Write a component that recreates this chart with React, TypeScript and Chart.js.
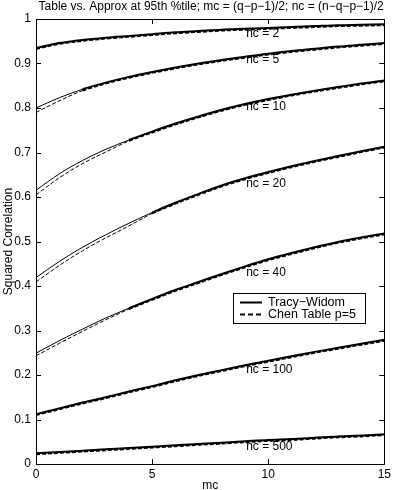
import React, { useEffect, useRef } from "react";
import { Chart, registerables } from "chart.js";

Chart.register(...registerables);

const mcValues = [0, 1, 2, 3, 4, 5, 6, 7, 8, 9, 10, 11, 12, 13, 14, 15];
const ncNames = ["2", "5", "10", "20", "40", "100", "500"];

const twNc2 = [0.935, 0.946, 0.953, 0.958, 0.962, 0.966, 0.97, 0.973, 0.976, 0.978, 0.98, 0.982, 0.984, 0.986, 0.987, 0.988];
const chNc2 = [0.933, 0.944, 0.951, 0.956, 0.96, 0.964, 0.968, 0.971, 0.974, 0.976, 0.978, 0.98, 0.982, 0.984, 0.985, 0.986];
const twNc5 = [0.8, 0.823, 0.842, 0.857, 0.87, 0.881, 0.891, 0.9, 0.908, 0.915, 0.922, 0.928, 0.933, 0.938, 0.942, 0.946];
const chNc5 = [0.79, 0.816, 0.839, 0.855, 0.868, 0.879, 0.889, 0.898, 0.906, 0.913, 0.92, 0.926, 0.931, 0.936, 0.94, 0.944];
const twNc10 = [0.615, 0.652, 0.682, 0.707, 0.728, 0.747, 0.765, 0.781, 0.796, 0.809, 0.82, 0.83, 0.839, 0.847, 0.855, 0.862];
const chNc10 = [0.605, 0.643, 0.675, 0.701, 0.726, 0.745, 0.763, 0.779, 0.794, 0.807, 0.818, 0.828, 0.837, 0.845, 0.853, 0.86];
const twNc20 = [0.419, 0.455, 0.487, 0.515, 0.541, 0.565, 0.587, 0.607, 0.626, 0.642, 0.656, 0.669, 0.681, 0.692, 0.703, 0.713];
const chNc20 = [0.409, 0.446, 0.479, 0.508, 0.535, 0.563, 0.585, 0.605, 0.624, 0.64, 0.654, 0.667, 0.679, 0.69, 0.701, 0.711];
const twNc40 = [0.249, 0.277, 0.303, 0.328, 0.35, 0.371, 0.391, 0.409, 0.427, 0.444, 0.46, 0.474, 0.487, 0.499, 0.509, 0.518];
const chNc40 = [0.243, 0.271, 0.298, 0.324, 0.348, 0.369, 0.389, 0.407, 0.425, 0.442, 0.458, 0.472, 0.485, 0.497, 0.507, 0.516];
const twNc100 = [0.112, 0.125, 0.138, 0.15, 0.163, 0.175, 0.188, 0.2, 0.211, 0.222, 0.232, 0.242, 0.252, 0.261, 0.27, 0.279];
const chNc100 = [0.11, 0.123, 0.136, 0.148, 0.161, 0.173, 0.186, 0.198, 0.209, 0.22, 0.23, 0.24, 0.25, 0.259, 0.268, 0.277];
const twNc500 = [0.024, 0.027, 0.03, 0.033, 0.036, 0.039, 0.042, 0.045, 0.048, 0.051, 0.054, 0.056, 0.059, 0.062, 0.064, 0.067];
const chNc500 = [0.022, 0.025, 0.028, 0.031, 0.034, 0.037, 0.04, 0.043, 0.046, 0.049, 0.052, 0.054, 0.057, 0.06, 0.062, 0.065];

const twSeries = [twNc2, twNc5, twNc10, twNc20, twNc40, twNc100, twNc500];
const chSeries = [chNc2, chNc5, chNc10, chNc20, chNc40, chNc100, chNc500];
// mc from which the two curves merge into one bold line
const mergeFromMc = [0, 2, 4, 5, 4, 0, 0];

const curveLabelMc = 9.05;
const curveLabelY = [0.967, 0.909, 0.803, 0.631, 0.431, 0.213, 0.04];

const xTicks = [0, 5, 10, 15];
const yTicks = [0, 0.1, 0.2, 0.3, 0.4, 0.5, 0.6, 0.7, 0.8, 0.9, 1];
const yTickLabels = ["0", "0.1", "0.2", "0.3", "0.4", "0.5", "0.6", "0.7", "0.8", "0.9", "1"];

const legendNames = ["Tracy\u2212Widom", "Chen Table p=5"];
const titleText = "Table vs. Approx at 95th %tile; mc = (q\u2212p\u22121)/2; nc = (n\u2212q\u2212p\u22121)/2";
const FONT = "'Liberation Sans', Arial, Helvetica, sans-serif";

const toPoints = (ys: number[]) => ys.map((y, i) => ({ x: mcValues[i], y }));

const framePlugin = {
  id: "frame",
  afterDatasetsDraw(chart: any) {
    const { ctx, chartArea: a, scales } = chart;
    const xs = scales.x;
    const ys = scales.y;
    ctx.save();
    ctx.strokeStyle = "#000";
    ctx.lineWidth = 1;
    ctx.beginPath();
    ctx.rect(Math.round(a.left) + 0.5, Math.round(a.top) + 0.5, Math.round(a.right - a.left), Math.round(a.bottom - a.top));
    ctx.stroke();
    const tl = 5;
    ctx.beginPath();
    xTicks.forEach((v) => {
      const px = Math.round(xs.getPixelForValue(v)) + 0.5;
      ctx.moveTo(px, a.bottom);
      ctx.lineTo(px, a.bottom - tl);
      ctx.moveTo(px, a.top);
      ctx.lineTo(px, a.top + tl);
    });
    yTicks.forEach((v) => {
      const py = Math.round(ys.getPixelForValue(v)) + 0.5;
      ctx.moveTo(a.left, py);
      ctx.lineTo(a.left + tl, py);
      ctx.moveTo(a.right, py);
      ctx.lineTo(a.right - tl, py);
    });
    ctx.stroke();

    // curve labels
    ctx.fillStyle = "#000";
    ctx.font = `12px ${FONT}`;
    ctx.textAlign = "left";
    ctx.textBaseline = "middle";
    ncNames.forEach((n, i) => {
      ctx.fillText(`nc = ${n}`, xs.getPixelForValue(curveLabelMc), ys.getPixelForValue(curveLabelY[i]));
    });

    // title
    ctx.textAlign = "center";
    ctx.fillText(titleText, (a.left + a.right) / 2 + 1, 7);

    // legend
    const lx = 233.5, ly = 293.5, lw = 132, lh = 30;
    ctx.fillStyle = "#fff";
    ctx.fillRect(lx, ly, lw, lh);
    ctx.strokeStyle = "#000";
    ctx.lineWidth = 1;
    ctx.strokeRect(lx, ly, lw, lh);
    ctx.font = `12.5px ${FONT}`;
    const rows = [302.5, 314.5];
    rows.forEach((ry, i) => {
      ctx.beginPath();
      ctx.lineWidth = 2;
      ctx.setLineDash(i === 0 ? [] : [5, 3]);
      ctx.moveTo(240, ry);
      ctx.lineTo(262, ry);
      ctx.stroke();
      ctx.setLineDash([]);
      ctx.fillStyle = "#000";
      ctx.textAlign = "left";
      ctx.fillText(legendNames[i], 268, ry);
    });
    ctx.restore();
  },
};

export default function App() {
  const ref = useRef<HTMLCanvasElement | null>(null);
  useEffect(() => {
    if (!ref.current) return;
    const datasets: any[] = [];
    ncNames.forEach((n, i) => {
      const seg = {
        borderWidth: (c: any) => (c.p0.parsed.x >= mergeFromMc[i] ? 2 : 1),
      };
      datasets.push({
        label: `TW nc=${n}`,
        data: toPoints(twSeries[i]),
        borderColor: "#000",
        borderWidth: 1,
        segment: seg,
        pointRadius: 0,
        cubicInterpolationMode: "monotone",
        fill: false,
      });
      datasets.push({
        label: `Chen nc=${n}`,
        data: toPoints(chSeries[i]),
        borderColor: "#000",
        borderWidth: 1,
        segment: seg,
        borderDash: [4, 2],
        pointRadius: 0,
        cubicInterpolationMode: "monotone",
        fill: false,
      });
    });
    const chart = new Chart(ref.current, {
      type: "line",
      data: { datasets },
      options: {
        animation: false,
        responsive: false,
        devicePixelRatio: 1,
        layout: { padding: { top: 19, right: 7, left: 0, bottom: 0 } },
        plugins: { legend: { display: false }, tooltip: { enabled: false }, title: { display: false } },
        scales: {
          x: {
            type: "linear",
            min: 0,
            max: 15,
            grid: { display: false, drawTicks: false },
            border: { display: false },
            afterBuildTicks: (s: any) => {
              s.ticks = xTicks.map((v) => ({ value: v }));
            },
            afterFit: (s: any) => {
              s.height = 26;
            },
            ticks: {
              color: "#000",
              font: { family: FONT, size: 12 },
              padding: 3,
              maxRotation: 0,
              autoSkip: false,
              callback: (v: any) => String(v),
            },
            title: {
              display: true,
              text: "mc",
              color: "#000",
              font: { family: FONT, size: 12 },
              padding: { top: 0, bottom: -2.5 },
            },
          },
          y: {
            type: "linear",
            min: 0,
            max: 1,
            grid: { display: false, drawTicks: false },
            border: { display: false },
            afterBuildTicks: (s: any) => {
              s.ticks = yTicks.map((v) => ({ value: v }));
            },
            afterFit: (s: any) => {
              s.width = 36;
            },
            ticks: {
              color: "#000",
              font: { family: FONT, size: 12 },
              padding: 5,
              autoSkip: false,
              callback: (_v: any, i: number) => yTickLabels[i],
            },
            title: {
              display: true,
              text: "Squared Correlation",
              color: "#000",
              font: { family: FONT, size: 12 },
              padding: { top: 1, bottom: 0 },
            },
          },
        },
      },
      plugins: [framePlugin],
    });
    return () => chart.destroy();
  }, []);
  return (
    <div style={{ position: "fixed", left: 0, top: 0, width: 394, height: 490, background: "#fff" }}>
      <canvas ref={ref} width={394} height={490} style={{ display: "block", width: 394, height: 490 }} />
    </div>
  );
}
